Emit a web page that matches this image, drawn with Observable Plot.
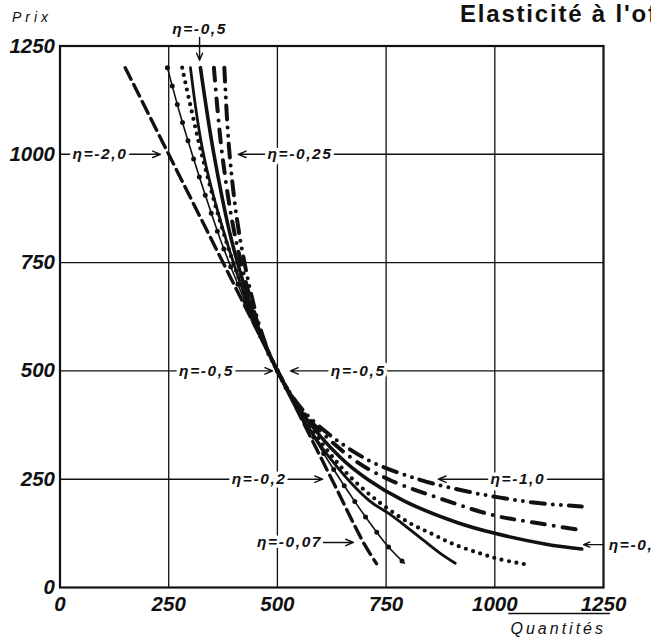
<!DOCTYPE html>
<html><head><meta charset="utf-8">
<script src="https://cdn.jsdelivr.net/npm/d3@7"></script>
<script src="https://cdn.jsdelivr.net/npm/@observablehq/plot@0.6"></script>
<style>
body{margin:0;background:#fff;}
#chart{position:relative;width:651px;height:640px;overflow:hidden;}
</style></head><body><div id="chart"></div>
<script>
// ---- axis ticks ----
const ticks = [0, 250, 500, 750, 1000, 1250];
const gridQ = [250, 500, 750, 1000];
const gridP = [750];

// ---- curves (Prix, Quantités) ----
// A: dashed (linear)
const pA = [1200, 1000, 750, 500, 250, 100, 55];
const qA = [150, 250, 375, 500, 625, 700, 728];
// B: thin line with dots
const pB = [1200, 1100, 1000, 900, 800, 700, 600, 500, 400, 300, 200, 150, 100, 56];
const qB = [247, 274, 304, 336, 370, 409, 452, 500, 553, 612, 677, 712, 750, 792];
// C: dotted
const pC = [1200, 1000, 800, 600, 500, 400, 300, 250, 200, 150, 124, 100, 80, 65, 53];
const qC = [281, 326, 382, 454, 500, 556, 628, 673, 730, 802, 855, 905, 962, 1012, 1074];
// D: solid (short)
const pD = [1200, 1000, 800, 600, 500, 400, 300, 200, 171, 140, 108, 80, 56];
const qD = [300, 330, 383, 453, 500, 553, 620, 712, 756, 797, 837, 873, 909];
// E: thick solid (long)
const pE = [1200, 1000, 800, 600, 500, 400, 300, 250, 200, 150, 125, 100, 89];
const qE = [323, 354, 395, 456, 500, 559, 645, 707, 791, 913, 1000, 1118, 1200];
// F: dash-dot
const pF = [1200, 1000, 800, 600, 500, 400, 300, 250, 200, 166, 150, 132];
const qF = [354, 373, 405, 458, 500, 563, 669, 755, 890, 1000, 1090, 1200];
// G: dash-dot-dot
const pG = [1200, 1000, 800, 600, 500, 400, 300, 250, 225, 208, 195, 187];
const qG = [378, 390, 415, 460, 500, 567, 698, 824, 921, 1009, 1100, 1200];

// ---- annotations ----
const labelText = ["η=-0,5", "η=-2,0", "η=-0,25", "η=-0,5", "η=-0,5", "η=-0,2", "η=-1,0", "η=-0,07", "η=-0,5"];
const labelQ =    [321, 92, 552, 337, 686, 458, 1053, 528, 1262];
const labelP =    [1290, 1000, 1000, 500, 500, 250, 250, 104, 99];
const labelAnchor = ["middle", "middle", "middle", "middle", "middle", "middle", "middle", "middle", "start"];

const arrowQ1 = [321, 0, 1250, 0, 1250, 0, 1250, 606, 1250];
const arrowP1 = [1270, 1000, 1000, 500, 500, 250, 250, 104, 99];
const arrowQ2 = [321, 231, 410, 489, 530, 604, 870, 675, 1204];
const arrowP2 = [1217, 1000, 1000, 500, 500, 250, 250, 104, 99];

// underline near the x-axis title
const underlineP = [-60];
const underlineQ1 = [1032];
const underlineQ2 = [1266];

const build = (p, q) => p.map((v, i) => ({price: v, qty: q[i]}));
const labels = labelText.map((t, i) => ({text: t, qty: labelQ[i], price: labelP[i], anchor: labelAnchor[i]}));
const arrows = arrowQ1.map((v, i) => ({x1: v, y1: arrowP1[i], x2: arrowQ2[i], y2: arrowP2[i]}));
const underline = underlineP.map((v, i) => ({y: v, x1: underlineQ1[i], x2: underlineQ2[i]}));

const ink = "#111";
const curveOpts = {x: "qty", y: "price", stroke: ink, curve: "catmull-rom", strokeLinejoin: "round"};
const labelOpts = {x: "qty", y: "price", text: "text", fontSize: 15.5, fontWeight: "bold", fontStyle: "italic",
  fill: ink, stroke: "white", strokeWidth: 7, paintOrder: "stroke"};
const tickFont = {fontSize: 20.5, fontWeight: "bold", fontStyle: "italic"};

const plot = Plot.plot({
  width: 651, height: 640,
  marginLeft: 59.5, marginRight: 48, marginTop: 45.5, marginBottom: 53,
  x: {domain: [0, 1250]},
  y: {domain: [0, 1250]},
  style: {fontFamily: "'Liberation Sans', Arial, sans-serif", background: "white", color: ink},
  marks: [
    Plot.ruleX(gridQ, {stroke: ink, strokeWidth: 1.3}),
    Plot.ruleY(gridP, {stroke: ink, strokeWidth: 1.3}),
    Plot.arrow(arrows, {x1: "x1", y1: "y1", x2: "x2", y2: "y2", stroke: ink, strokeWidth: 1.4, headLength: 9, headAngle: 45}),
    Plot.ruleY(underline, {y: "y", x1: "x1", x2: "x2", stroke: ink, strokeWidth: 1.3, clip: false}),
    // curves
    Plot.line(build(pA, qA), {...curveOpts, strokeWidth: 3.4, strokeDasharray: "13,6"}),
    Plot.line(build(pB, qB), {...curveOpts, strokeWidth: 1.6}),
    Plot.line(build(pB, qB), {...curveOpts, strokeWidth: 5, strokeDasharray: "0,19", strokeLinecap: "round"}),
    Plot.line(build(pC, qC), {...curveOpts, strokeWidth: 4.2, strokeDasharray: "0,7.5", strokeLinecap: "round"}),
    Plot.line(build(pD, qD), {...curveOpts, strokeWidth: 2.8}),
    Plot.line(build(pE, qE), {...curveOpts, strokeWidth: 3.6}),
    Plot.line(build(pF, qF), {...curveOpts, strokeWidth: 4, strokeDasharray: "13,9,0,9", strokeLinecap: "round"}),
    Plot.line(build(pG, qG), {...curveOpts, strokeWidth: 4, strokeDasharray: "14,8,0,8,0,8", strokeLinecap: "round"}),
    // labels with white halo
    Plot.text(labels.filter(d => d.anchor === "middle"), {...labelOpts, textAnchor: "middle"}),
    Plot.text(labels.filter(d => d.anchor === "start"), {...labelOpts, textAnchor: "start"}),
    Plot.frame({stroke: ink, strokeWidth: 2.2}),
    Plot.axisX(ticks, {tickSize: 0, tickPadding: 9, tickFormat: d => String(d), label: null, ...tickFont}),
    Plot.axisY(ticks, {tickSize: 0, tickPadding: 5, tickFormat: d => String(d), label: null, ...tickFont})
  ]
});

document.getElementById("chart").appendChild(plot);

const svg = d3.select(plot);
// letter spacing of annotation labels (the text marks with white halo)
svg.selectAll("g[stroke='white'] text").attr("letter-spacing", "1.6px");

// titles
svg.append("text").attr("x", 460).attr("y", 22).attr("text-anchor", "start")
  .attr("font-size", 24).attr("font-weight", "bold").attr("letter-spacing", "1.8px").attr("fill", ink)
  .text("Elasticité à l'offre");
svg.append("text").attr("x", 12).attr("y", 22).attr("text-anchor", "start")
  .attr("font-size", 14).attr("font-style", "italic").attr("letter-spacing", "4px").attr("fill", ink)
  .text("Prix");
svg.append("text").attr("x", 606).attr("y", 634).attr("text-anchor", "end")
  .attr("font-size", 16).attr("font-style", "italic").attr("letter-spacing", "3px").attr("fill", ink)
  .text("Quantités");
</script></body></html>
